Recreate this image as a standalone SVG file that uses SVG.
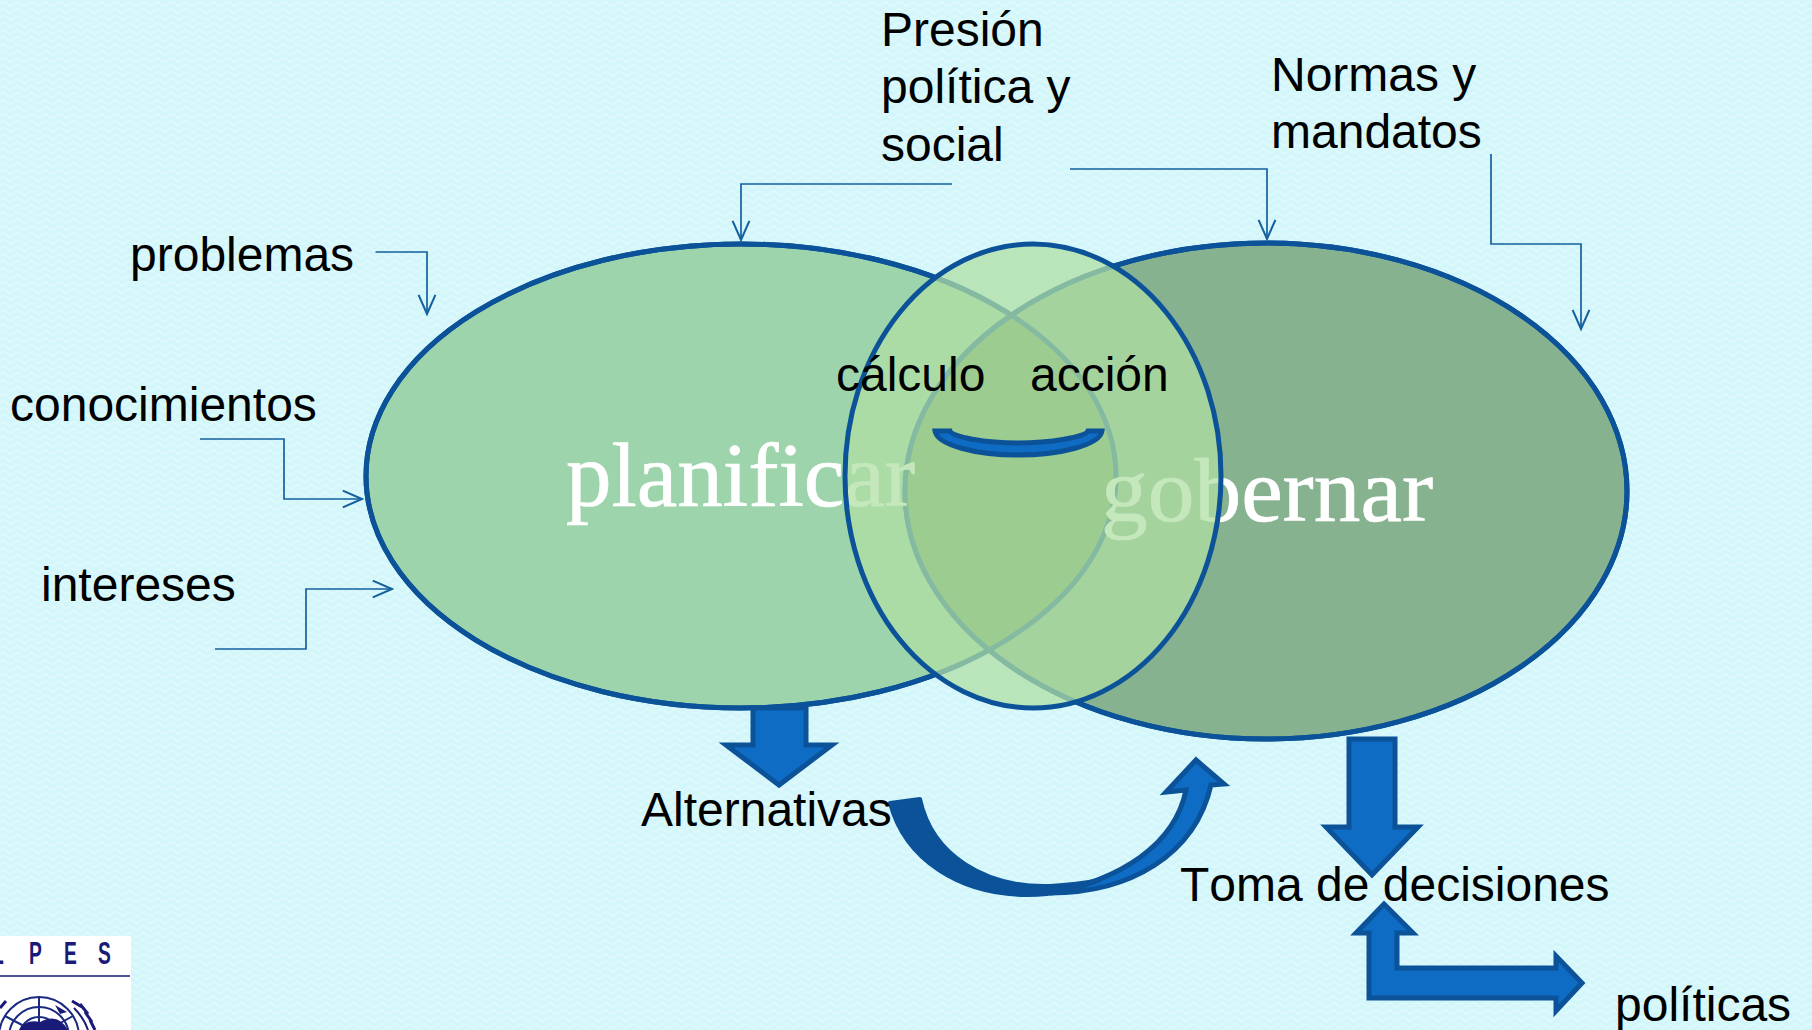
<svg xmlns="http://www.w3.org/2000/svg" width="1812" height="1030" viewBox="0 0 1812 1030">
<style>
.t{font-family:"Liberation Sans",Arial,sans-serif;font-size:48px;fill:#000}
.s{font-family:"Liberation Serif","Times New Roman",serif;font-size:90px;fill:#fff;stroke:#fff;stroke-width:.7}
.c{fill:none;stroke:#15609f;stroke-width:1.7}
.b{fill:#0f6cc4;stroke:#0b5299;stroke-width:5;stroke-linejoin:miter}
.e{stroke:#0b5299;stroke-width:5}
.g{fill:none;stroke:#1a2a80;stroke-width:2}
.l{font-family:"Liberation Sans",Arial,sans-serif;font-weight:700;font-size:31px;fill:#1a1a78}
</style>
<defs>
<marker id="o" markerWidth="24" markerHeight="20" refX="18" refY="8" orient="auto" markerUnits="userSpaceOnUse" viewBox="0 0 20 16"><path d="M2 1 L18 8 L2 15" fill="none" stroke="#15609f" stroke-width="1.7"/></marker>
<pattern id="bgp" width="14" height="14" patternUnits="userSpaceOnUse"><rect width="14" height="14" fill="#d3f6fa"/><path d="M0 4 Q3.5 0 7 4 T14 4 M0 11 Q3.5 7 7 11 T14 11" fill="none" stroke="#def9fc" stroke-width="2"/></pattern>
<clipPath id="cl"><ellipse cx="741" cy="476" rx="375" ry="232"/></clipPath>
</defs>
<rect id="background" width="1812" height="1030" fill="url(#bgp)"/>
<g id="node-planificar">
<ellipse cx="741" cy="476" rx="375" ry="232" fill="#9dd4ab" class="e"/>
</g>
<g id="node-gobernar">
<ellipse cx="1266" cy="491" rx="361" ry="248" fill="#87b290" class="e"/>
<ellipse cx="1266" cy="491" rx="361" ry="248" fill="#6a9658" clip-path="url(#cl)"/>
<ellipse cx="741" cy="476" rx="375" ry="232" fill="none" class="e"/>
<ellipse cx="1266" cy="491" rx="361" ry="248" fill="none" class="e"/>
<text class="s" x="1101" y="521" textLength="332" lengthAdjust="spacingAndGlyphs">gobernar</text>
</g>
<text class="s" x="566" y="506" textLength="349" lengthAdjust="spacingAndGlyphs">planificar</text>
<g id="node-calculo-accion">
<ellipse cx="1033" cy="476" rx="188" ry="232" fill="#afdfa3" fill-opacity=".74" class="e"/>
</g>
<g id="connectors">
<path class="c" marker-end="url(#o)" d="M375.500 252H427V314"/>
<path class="c" marker-end="url(#o)" d="M200 439H284V499H362"/>
<path class="c" marker-end="url(#o)" d="M215 649H306V589H392"/>
<path class="c" marker-end="url(#o)" d="M952 184H741V240"/>
<path class="c" marker-end="url(#o)" d="M1070 169H1267V239"/>
<path class="c" marker-end="url(#o)" d="M1491 154V244H1581V329"/>
</g>
<g id="arrow-alternativas"><path class="b" d="M753 708H806V745H832L779 785L726 745H753Z"/></g>
<g id="arrow-decisiones"><path class="b" d="M1349 739H1395V827H1418L1372 875L1326 827H1349Z"/></g>
<g id="arrow-politicas"><path class="b" d="M1384 904L1413 933H1397V968H1556V956L1582 983L1556 1011V998H1369V933H1356Z"/></g>
<g id="arrow-curva">
<path class="b" d="M1196 760L1224 784L1211 785C1195 855 1130 893 1050 893C1120 880 1175 845 1186 790L1166 792Z"/>
<path d="M890 803L920 799C932 855 985 888 1050 886C1070 885 1085 883 1100 880C1075 891 1050 895 1028 895C960 895 905 860 890 803Z" fill="#0b5299" stroke="#0b5299" stroke-width="4" stroke-linejoin="round"/>
</g>
<g id="arrow-sonrisa">
<path class="b" d="M935 431H950C952 437 985 443 1018 443C1050 443 1086 437 1088 431H1102C1100 445 1060 455 1018 455C976 455 937 445 935 431Z"/>
</g>
<g id="labels">
<text class="t" x="881" y="46">Presión</text>
<text class="t" x="881" y="103">política y</text>
<text class="t" x="881" y="161">social</text>
<text class="t" x="1271" y="91">Normas y</text>
<text class="t" x="1271" y="148">mandatos</text>
<text class="t" x="130" y="271">problemas</text>
<text class="t" x="10" y="421">conocimientos</text>
<text class="t" x="41" y="601">intereses</text>
<text class="t" x="836" y="391">cálculo</text>
<text class="t" x="1030" y="391">acción</text>
<text class="t" x="641" y="826">Alternativas</text>
<text class="t" x="1180" y="901" style="font-kerning:none">Toma de decisiones</text>
<text class="t" x="1615" y="1021">políticas</text>
</g>
<g id="logo">
<rect x="0" y="936" width="131" height="94" fill="#fff"/>
<text class="l" transform="translate(-8 964) scale(.62 1)">L</text>
<text class="l" transform="translate(29 964) scale(.62 1)">P</text>
<text class="l" transform="translate(64 964) scale(.62 1)">E</text>
<text class="l" transform="translate(98 964) scale(.62 1)">S</text>
<path d="M0 976H130" stroke="#1a1a78" stroke-width="1.500"/>
<circle class="g" cx="39" cy="1037" r="40" stroke-width="1.500"/>
<circle class="g" cx="39" cy="1037" r="30"/>
<circle class="g" cx="39" cy="1037" r="20"/>
<path class="g" d="M39 997V1022M5 1016L24 1026M73 1016L55 1026"/>
<path d="M19 1030Q25 1019 40 1022Q58 1012 68 1030Z M55 1005L67 1012L60 1014Z" fill="#1a1a78"/>
<path d="M72 1001L82 1007M80 1004L88 1014M85 1012L92 1022M90 1020L95 1030M0 1008L6 1001" fill="none" stroke="#1a1a78" stroke-width="3"/>
<path d="M74 1008Q84 1018 88 1030" fill="none" stroke="#1a1a78" stroke-width="2"/>
</g>
</svg>
